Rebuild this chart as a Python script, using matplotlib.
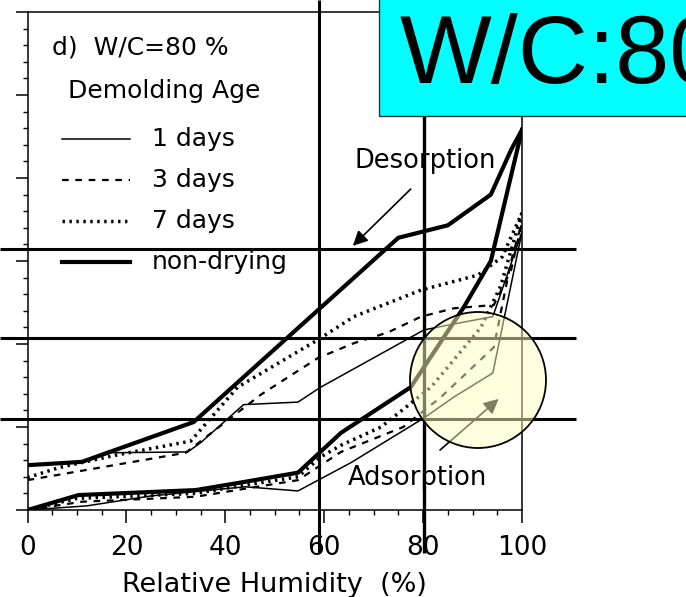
import matplotlib.pyplot as plt
from matplotlib.patches import Circle, Rectangle

# Relative humidity (%) and water content for each demolding age
# desorption branches
rh_des_nd = [0, 11, 33.6, 75, 85, 93.7, 97.8, 100]
w_des_nd = [0.54, 0.58, 1.06, 3.28, 3.43, 3.80, 4.34, 4.58]
rh_des_7 = [0, 6.3, 17.8, 33, 42.5, 58.7, 66, 79.6, 91.1, 96, 100]
w_des_7 = [0.39, 0.51, 0.66, 0.83, 1.48, 2.05, 2.33, 2.65, 2.83, 3.05, 3.58]
rh_des_3 = [0, 32, 47.2, 58.7, 66, 72.9, 79.6, 86.2, 94.3, 97.8, 100]
w_des_3 = [0.36, 0.69, 1.39, 1.83, 2.01, 2.14, 2.33, 2.43, 2.47, 2.89, 3.47]
rh_des_1 = [0, 11, 17, 32.4, 35, 43.7, 54.7, 59.3, 80.2, 87, 94.1, 100]
w_des_1 = [0.54, 0.58, 0.69, 0.70, 0.81, 1.27, 1.30, 1.48, 2.17, 2.25, 2.33, 3.35]

# adsorption branches
rh_ads_nd = [0, 10.3, 34, 43, 54.7, 63.4, 77.5, 88.3, 93.7, 100]
w_ads_nd = [0, 0.18, 0.24, 0.33, 0.45, 0.93, 1.48, 2.45, 3.0, 4.58]
rh_ads_7 = [0, 10, 34, 44, 54.7, 59.3, 63.4, 71.5, 81.6, 91.7, 95.7, 100]
w_ads_7 = [0, 0.14, 0.20, 0.30, 0.40, 0.64, 0.78, 1.0, 1.48, 2.2, 2.7, 3.58]
rh_ads_3 = [0, 11, 34, 54.7, 63.4, 76, 83.6, 94.3, 97.8, 100]
w_ads_3 = [0, 0.10, 0.16, 0.36, 0.70, 1.0, 1.36, 1.96, 3.0, 3.47]
rh_ads_1 = [0, 12, 25, 44, 54.7, 65.4, 80.2, 86.2, 94.1, 100]
w_ads_1 = [0, 0.05, 0.17, 0.28, 0.23, 0.57, 1.11, 1.36, 1.65, 3.35]

x_ticks = [0, 20, 40, 60, 80, 100]
ages = ['1 days', '3 days', '7 days', 'non-drying']

plt.rcParams['font.family'] = ['DejaVu Sans']

fig = plt.figure(figsize=(6.86, 5.97), dpi=100)
ax = fig.add_axes([0.0401, 0.1457, 0.7208, 0.8342])

sty_1 = dict(color='black', lw=1.1, ls='-')
sty_3 = dict(color='black', lw=1.6, ls=(0, (3, 3)))
sty_7 = dict(color='black', lw=2.5, ls=(0, (0.7, 1.3)))
sty_nd = dict(color='black', lw=3.0, ls='-')
styles = [sty_1, sty_3, sty_7, sty_nd]

ax.plot(rh_des_1, w_des_1, **sty_1)
ax.plot(rh_des_3, w_des_3, **sty_3)
ax.plot(rh_des_7, w_des_7, **sty_7)
ax.plot(rh_des_nd, w_des_nd, **sty_nd)
ax.plot(rh_ads_1, w_ads_1, **sty_1)
ax.plot(rh_ads_3, w_ads_3, **sty_3)
ax.plot(rh_ads_7, w_ads_7, **sty_7)
ax.plot(rh_ads_nd, w_ads_nd, **sty_nd)

ax.set_xlim(0, 100)
ax.set_ylim(0, 6)
ax.set_xticks(x_ticks)
ax.set_xticks(range(0, 101, 5), minor=True)
ax.set_yticks(range(0, 7))
ax.set_yticks([i * 0.2 for i in range(31)], minor=True)
ax.set_yticklabels([])
ax.tick_params(which='major', direction='out', length=9, width=1.1, labelsize=19, pad=9)
ax.tick_params(which='minor', direction='out', length=3.5, width=1.0)
for s in ax.spines.values():
    s.set_linewidth(1.1)
ax.set_xlabel('Relative Humidity  (%)', fontsize=19.5, labelpad=8)

# key drawn inside the frame
ax.text(0.0495, 0.9297, 'd)  W/C=80 %', transform=ax.transAxes, fontsize=18, va='center')
ax.text(0.0819, 0.8414, 'Demolding Age', transform=ax.transAxes, fontsize=18, va='center')
row_y = [0.7450, 0.6627, 0.5803, 0.4980]
for yy, lab, st in zip(row_y, ages, styles):
    ax.plot([0.0698, 0.2073], [yy, yy], transform=ax.transAxes, **st)
    ax.text(0.2518, yy, lab, transform=ax.transAxes, fontsize=18, va='center')

ax.text(80.4, 4.2, 'Desorption', fontsize=18.5, ha='center', va='center')
ax.annotate('', xy=(65.4, 3.16), xytext=(77.9, 3.89),
            arrowprops=dict(arrowstyle='-|>', mutation_scale=22, lw=1.2, color='black'))
ax.text(78.9, 0.385, 'Adsorption', fontsize=18.5, ha='center', va='center')
ax.annotate('', xy=(95.7, 1.36), xytext=(83.0, 0.70),
            arrowprops=dict(arrowstyle='-|>', mutation_scale=22, lw=1.2, color='black'))

# marking layer in pixel units on top of the chart
ov = fig.add_axes([0, 0, 1, 1], zorder=5)
ov.set_xlim(0, 686)
ov.set_ylim(597, 0)
ov.axis('off')
ov.patch.set_alpha(0)

for yy in [249, 338, 419]:
    ov.plot([0, 576], [yy, yy], color='black', lw=2.2, solid_capstyle='butt')
ov.plot([319, 319], [0, 553], color='black', lw=2.2, solid_capstyle='butt')
ov.plot([424, 424], [0, 553], color='black', lw=2.4, solid_capstyle='butt')

ov.add_patch(Rectangle((379, -5), 320, 121, facecolor='#00ffff', edgecolor='#333333', lw=1.0, zorder=6))
ov.text(400, 83, 'W/C:80%', fontsize=70, family='Liberation Sans', va='baseline', ha='left', zorder=7)

ov.add_patch(Circle((478, 380), 68, facecolor='#ffffc0', alpha=0.5, edgecolor='none', zorder=8))
ov.add_patch(Circle((478, 380), 68, facecolor='none', edgecolor='black', lw=1.3, zorder=9))

fig.savefig('out.png', dpi=100)
